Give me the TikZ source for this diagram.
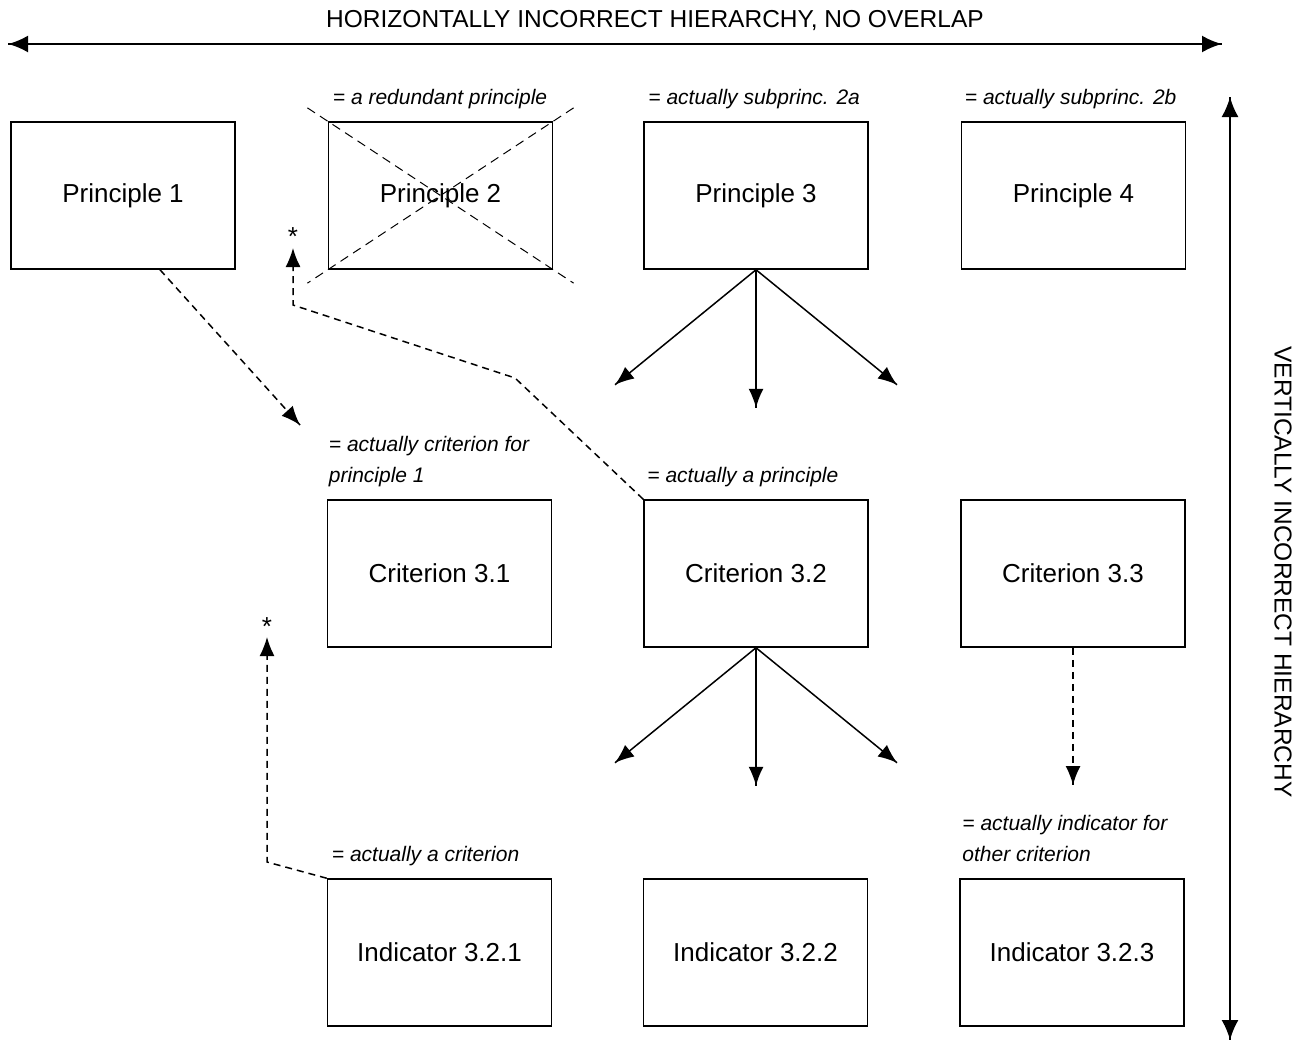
\documentclass[tikz,border=0pt]{standalone}
\usepackage{fontspec}
\setmainfont{Liberation Sans}
\usetikzlibrary{arrows.meta}
\usetikzlibrary{decorations.markings}
\usetikzlibrary{positioning}
\usetikzlibrary{calc}
\tikzset{->/.style = {decoration={markings,
                                  mark=at position 1 with {\arrow{Latex[length=19pt, width=15pt]}}},
                      postaction={decorate}}}
\tikzset{<->/.style = {decoration={markings,
                                   mark=at position 0 with {\arrowreversed{Latex[length=20pt, width=17pt]}},
                                   mark=at position 1 with {\arrow{Latex[length=20pt, width=17pt]}}},
                       postaction={decorate}}}
\tikzset{cell/.style = {draw, line width=1.5pt, minimum width=224pt, minimum height=147pt,
                        inner sep=0pt, font=\fontsize{26}{30}\selectfont}}
\tikzset{note/.style = {anchor=base west, inner sep=0pt, align=left,
                        font=\fontsize{21}{31}\selectfont\itshape}}
\tikzset{link/.style = {dash pattern=on 7pt off 5pt, line width=1.5pt}}
\tikzset{strike/.style = {dash pattern=on 9pt off 6pt, line width=1pt}}
\tikzset{axislabel/.style = {font=\fontsize{24.5}{28}\selectfont}}
\tikzset{starmark/.style = {anchor=base, inner sep=0pt, font=\fontsize{26}{28}\selectfont}}

\begin{document}
\begin{tikzpicture}[x=1pt, y=-1pt]
    \useasboundingbox (0, 0) rectangle (1308, 1044);

    \draw [<->, line width=2.5pt] (8, 44) -- (1222, 44);
    \node [axislabel] (htitle) at (655, 21) {HORIZONTALLY INCORRECT HIERARCHY, NO OVERLAP};
    \draw [<->, line width=2pt] (1230, 97) -- (1230, 1040);
    \node [axislabel, rotate=-90] (vtitle) at (1283, 572) {VERTICALLY INCORRECT HIERARCHY};

    \node [cell] (p1) at (123, 195.5) {Principle 1};
    \node [cell] (p2) at (440.5, 195.5) {Principle 2};
    \node [cell] (p3) at (756, 195.5) {Principle 3};
    \node [cell] (p4) at (1073.5, 195.5) {Principle 4};

    \node [cell] (c1) at (439.5, 573.5) {Criterion 3.1};
    \node [cell] (c2) at (756, 573.5) {Criterion 3.2};
    \node [cell] (c3) at (1073, 573.5) {Criterion 3.3};

    \node [cell] (i1) at (439.5, 952.5) {Indicator 3.2.1};
    \node [cell] (i2) at (755.5, 952.5) {Indicator 3.2.2};
    \node [cell] (i3) at (1072, 952.5) {Indicator 3.2.3};

    \node [note] (n2) at ([xshift=5pt, yshift=17pt]p2.north west) {= a redundant principle};
    \node [note] (n3) at ([xshift=5pt, yshift=17pt]p3.north west) {= actually subprinc. 2a};
    \node [note] (n4) at ([xshift=4pt, yshift=17pt]p4.north west) {= actually subprinc. 2b};
    \node [note] (nc1) at ([xshift=2pt, yshift=17pt]c1.north west) {= actually criterion for\\principle 1};
    \node [note] (nc2) at ([xshift=4pt, yshift=17pt]c2.north west) {= actually a principle};
    \node [note] (ni1) at ([xshift=5pt, yshift=17pt]i1.north west) {= actually a criterion};
    \node [note] (ni3) at ([xshift=3pt, yshift=17pt]i3.north west) {= actually indicator for\\other criterion};

    % principle 2 crossed out
    \draw [strike] ($(p2.north west)!-0.09!(p2.south east)$) -- ($(p2.south east)!-0.09!(p2.north west)$);
    \draw [strike] ($(p2.north east)!-0.09!(p2.south west)$) -- ($(p2.south west)!-0.09!(p2.north east)$);

    \foreach \src in {p3, c2}
      \foreach \dx/\dy in {-141/115, 0/138, 141/115}
        \draw [->, line width=1.5pt] (\src.south) -- ++(\dx, \dy);

    \coordinate (t1) at (300, 425);
    \draw [->, link] ([xshift=37pt]p1.south) -- (t1);

    \coordinate (s1) at (293, 248);
    \draw [->, link] (c2.north west) -- (515, 378) -- (293, 305) -- (s1);
    \node [starmark] (star1) at ([yshift=3pt]s1) {*};

    \coordinate (s2) at (267, 637);
    \draw [->, link] (i1.north west) -- (267, 862) -- (s2);
    \node [starmark] (star2) at ([yshift=2pt]s2) {*};

    \coordinate (t3) at (1073, 785);
    \draw [->, link] (c3.south) -- (t3);
\end{tikzpicture}
\end{document}
